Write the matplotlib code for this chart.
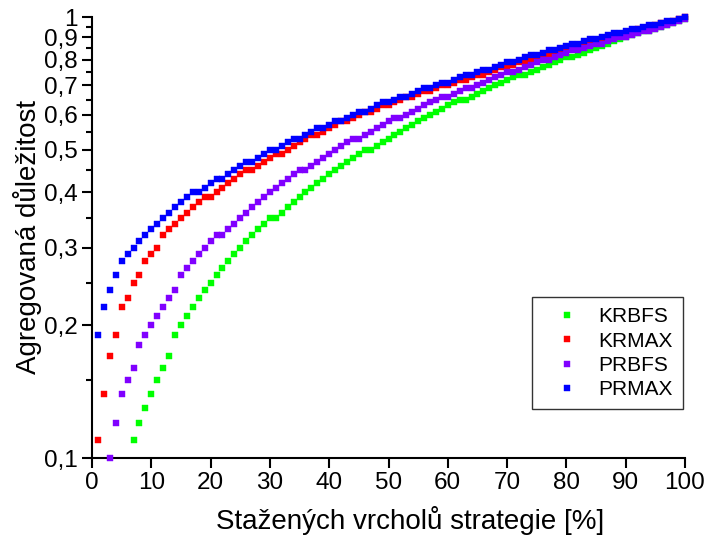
import numpy as np
import matplotlib
matplotlib.use("Agg")
import matplotlib.pyplot as plt
from matplotlib.ticker import FixedLocator, NullLocator, NullFormatter

plt.rcParams['font.family'] = ['Liberation Sans', 'DejaVu Sans']

x = list(range(1, 101))
nan = float('nan')

krbfs = [nan, nan, nan, nan, nan, nan, 0.11, 0.12, 0.13, 0.14,
         0.15, 0.16, 0.17, 0.19, 0.20, 0.21, 0.22, 0.23, 0.24, 0.25,
         0.26, 0.27, 0.28, 0.29, 0.30, 0.31, 0.32, 0.33, 0.34, 0.35,
         0.35, 0.36, 0.37, 0.38, 0.39, 0.40, 0.41, 0.42, 0.43, 0.44,
         0.45, 0.46, 0.47, 0.48, 0.49, 0.50, 0.50, 0.51, 0.52, 0.53,
         0.54, 0.55, 0.56, 0.57, 0.58, 0.59, 0.60, 0.61, 0.62, 0.63,
         0.64, 0.65, 0.65, 0.66, 0.67, 0.68, 0.69, 0.70, 0.71, 0.72,
         0.73, 0.74, 0.74, 0.75, 0.76, 0.77, 0.78, 0.79, 0.80, 0.81,
         0.81, 0.82, 0.83, 0.84, 0.85, 0.86, 0.87, 0.88, 0.89, 0.90,
         0.91, 0.92, 0.93, 0.93, 0.94, 0.95, 0.96, 0.97, 0.98, 0.99]

krmax = [0.11, 0.14, 0.17, 0.19, 0.22, 0.23, 0.25, 0.26, 0.28, 0.29,
         0.30, 0.32, 0.33, 0.34, 0.35, 0.36, 0.37, 0.38, 0.39, 0.39,
         0.40, 0.41, 0.42, 0.43, 0.44, 0.45, 0.45, 0.46, 0.47, 0.48,
         0.49, 0.49, 0.50, 0.51, 0.52, 0.53, 0.54, 0.54, 0.55, 0.56,
         0.57, 0.58, 0.58, 0.59, 0.60, 0.61, 0.61, 0.62, 0.63, 0.63,
         0.64, 0.65, 0.66, 0.66, 0.67, 0.68, 0.68, 0.69, 0.70, 0.70,
         0.71, 0.72, 0.72, 0.73, 0.74, 0.74, 0.75, 0.76, 0.77, 0.77,
         0.78, 0.79, 0.79, 0.80, 0.81, 0.82, 0.82, 0.83, 0.84, 0.85,
         0.85, 0.86, 0.87, 0.88, 0.88, 0.89, 0.90, 0.91, 0.91, 0.92,
         0.93, 0.94, 0.94, 0.95, 0.96, 0.97, 0.97, 0.98, 0.99, 1.00]

prbfs = [nan, nan, 0.10, 0.12, 0.14, 0.15, 0.16, 0.18, 0.19, 0.20,
         0.21, 0.22, 0.23, 0.24, 0.26, 0.27, 0.28, 0.29, 0.30, 0.31,
         0.32, 0.32, 0.33, 0.34, 0.35, 0.36, 0.37, 0.38, 0.39, 0.40,
         0.41, 0.42, 0.43, 0.44, 0.45, 0.45, 0.46, 0.47, 0.48, 0.49,
         0.50, 0.51, 0.52, 0.53, 0.53, 0.54, 0.55, 0.56, 0.57, 0.58,
         0.59, 0.59, 0.60, 0.61, 0.62, 0.63, 0.64, 0.65, 0.66, 0.66,
         0.67, 0.68, 0.69, 0.69, 0.70, 0.71, 0.72, 0.73, 0.74, 0.75,
         0.75, 0.76, 0.77, 0.78, 0.79, 0.80, 0.80, 0.81, 0.82, 0.83,
         0.84, 0.84, 0.85, 0.86, 0.87, 0.87, 0.88, 0.89, 0.90, 0.90,
         0.91, 0.92, 0.93, 0.93, 0.94, 0.95, 0.96, 0.97, 0.98, 0.99]

prmax = [0.19, 0.22, 0.24, 0.26, 0.28, 0.29, 0.30, 0.31, 0.32, 0.33,
         0.34, 0.35, 0.36, 0.37, 0.38, 0.39, 0.40, 0.40, 0.41, 0.42,
         0.43, 0.43, 0.44, 0.45, 0.46, 0.47, 0.47, 0.48, 0.49, 0.50,
         0.50, 0.51, 0.52, 0.53, 0.53, 0.54, 0.55, 0.56, 0.56, 0.57,
         0.58, 0.58, 0.59, 0.60, 0.61, 0.61, 0.62, 0.63, 0.64, 0.64,
         0.65, 0.66, 0.66, 0.67, 0.68, 0.69, 0.69, 0.70, 0.71, 0.71,
         0.72, 0.73, 0.74, 0.74, 0.75, 0.76, 0.76, 0.77, 0.78, 0.79,
         0.79, 0.80, 0.81, 0.82, 0.82, 0.83, 0.84, 0.84, 0.85, 0.86,
         0.87, 0.87, 0.88, 0.89, 0.89, 0.90, 0.91, 0.92, 0.92, 0.93,
         0.94, 0.94, 0.95, 0.96, 0.96, 0.97, 0.98, 0.98, 0.99, 1.00]

series_names = ['KRBFS', 'KRMAX', 'PRBFS', 'PRMAX']
series_values = [krbfs, krmax, prbfs, prmax]
series_colors = ['#00ff00', '#ff0000', '#8000ff', '#0000ff']

y_major = [0.1, 0.2, 0.3, 0.4, 0.5, 0.6, 0.7, 0.8, 0.9, 1.0]
y_labels = ['0,1', '0,2', '0,3', '0,4', '0,5', '0,6', '0,7', '0,8', '0,9', '1']
y_minor = [0.15, 0.25, 0.35, 0.45, 0.55, 0.65, 0.75, 0.85, 0.95]
x_ticks = [0, 10, 20, 30, 40, 50, 60, 70, 80, 90, 100]

fig = plt.figure(figsize=(7.06, 5.40), dpi=100)
ax = fig.add_axes([92 / 706, 1 - 458 / 540, 593 / 706, 441 / 540])

for name, vals, col in zip(series_names, series_values, series_colors):
    ax.plot(x, vals, linestyle='none', marker='s', markersize=4.3,
            markerfacecolor=col, markeredgecolor=col, markeredgewidth=0.3,
            label=name, clip_on=False, zorder=3)

ax.set_yscale('log')
ax.set_xlim(0, 100)
ax.set_ylim(0.1, 1.0)

ax.yaxis.set_major_locator(FixedLocator(y_major))
ax.set_yticklabels(y_labels)
ax.yaxis.set_minor_locator(FixedLocator(y_minor))
ax.yaxis.set_minor_formatter(NullFormatter())
ax.set_xticks(x_ticks)
ax.set_xticklabels([str(t) for t in x_ticks])
ax.xaxis.set_minor_locator(NullLocator())

for s in ['top', 'right']:
    ax.spines[s].set_visible(False)
for s in ['left', 'bottom']:
    ax.spines[s].set_linewidth(1.5)
    ax.spines[s].set_color('black')

ax.tick_params(axis='both', which='major', direction='out', length=7,
               width=1.5, labelsize=17.5, color='black', pad=3)
ax.tick_params(axis='both', which='minor', direction='out', length=4,
               width=1.5, color='black')

ax.set_xlabel('Stažených vrcholů strategie [%]', fontsize=20)
ax.xaxis.set_label_coords(0.536, -0.108)
ax.set_ylabel('Agregovaná důležitost', fontsize=20, labelpad=2)

leg = ax.legend(loc='upper right', bbox_to_anchor=(0.997, 0.365),
                fontsize=15, frameon=True, fancybox=False, markerscale=1.1,
                handlelength=2.4, handletextpad=0.3, borderpad=0.5,
                labelspacing=0.25, borderaxespad=0.0)
leg.get_frame().set_edgecolor('black')
leg.get_frame().set_linewidth(1.0)

fig.savefig('out.png', dpi=100)
